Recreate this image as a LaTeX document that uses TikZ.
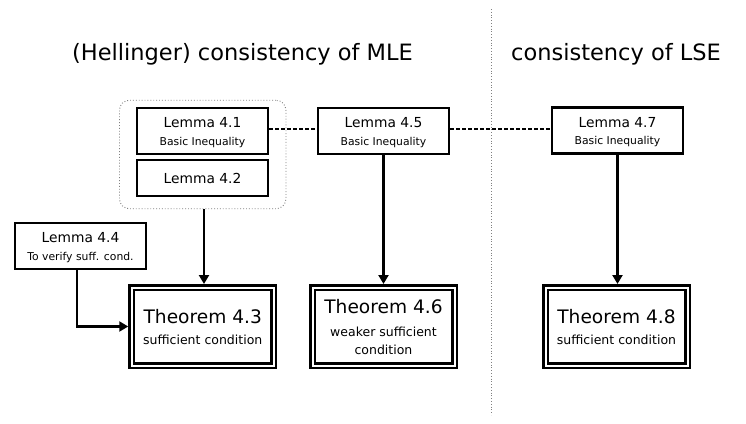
\documentclass[tikz,border=0pt]{standalone}
\usepackage{fontspec}
\setmainfont{DejaVu Sans}
\usetikzlibrary{arrows.meta,calc}
\begin{document}
\begin{tikzpicture}[x=1pt,y=-1pt,
  lembox/.style={draw,line width=2.2pt,minimum width=131pt,minimum height=46pt,inner sep=0pt},
  thmbox/.style={draw,double,line width=2.5pt,double distance=2pt,minimum width=142pt,minimum height=78pt,inner sep=0pt,outer sep=3.5pt},
  lemtxt/.style={anchor=base,inner sep=0pt,font=\fontsize{13.8}{16}\selectfont},
  subtxt/.style={anchor=base,inner sep=0pt,font=\fontsize{10.8}{13}\selectfont},
  thmtxt/.style={anchor=base,inner sep=0pt,font=\fontsize{18.6}{22}\selectfont},
  thmsub/.style={anchor=base,inner sep=0pt,font=\fontsize{12.5}{15}\selectfont},
  ttl/.style={anchor=base,inner sep=0pt,font=\fontsize{22.5}{27}\selectfont},
  arr/.style={line width=2.2pt,-{Triangle[length=9pt,width=10pt]}},
  dsh/.style={line width=2pt,dash pattern=on 3.5pt off 2.5pt}
]
\useasboundingbox[fill=white] (0,0) rectangle (746,423);
\draw[gray,line width=0.8pt,dotted] (491,9) -- (491,415);
% titles
\node[ttl] (t1) at (242.5,60.5) {(Hellinger) consistency of MLE};
\node[ttl] (t2) at (616,60.5) {consistency of LSE};
% group
\node[draw=gray,dotted,line width=0.9pt,rounded corners=10pt,minimum width=166.5pt,minimum height=108.5pt,inner sep=0pt] (grp) at (202.7,154.5) {};
% lemma boxes
\node[lembox] (l41) at (202.5,131) {};
\node[lemtxt] (l41a) at (202.5,127.5) {Lemma 4.1};
\node[subtxt] (l41b) at (202.5,145) {Basic Inequality};
\node[lembox,minimum height=36pt] (l42) at (202.5,178) {};
\node[lemtxt] (l42a) at (202.5,183.5) {Lemma 4.2};
\node[lembox] (l45) at (383.5,131) {};
\node[lemtxt] (l45a) at (383.5,127.5) {Lemma 4.5};
\node[subtxt] (l45b) at (383.5,145) {Basic Inequality};
\node[lembox] (l47) at (617.5,130.5) {};
\node[lemtxt] (l47a) at (617.5,127) {Lemma 4.7};
\node[subtxt] (l47b) at (617.5,144.5) {Basic Inequality};
\node[lembox] (l44) at (80.5,246) {};
\node[lemtxt] (l44a) at (80.5,242.5) {Lemma 4.4};
\node[subtxt] (l44b) at (80.5,260) {To verify suff. cond.};
% theorem boxes
\node[thmbox] (t43) at (202.75,326.5) {};
\node[thmtxt] (t43a) at (202.75,323) {Theorem 4.3};
\node[thmsub] (t43b) at (202.75,344) {sufficient condition};
\node[thmbox] (t46) at (383.5,326.5) {};
\node[thmtxt] (t46a) at (383.5,313) {Theorem 4.6};
\node[thmsub] (t46b) at (383.5,336) {weaker sufficient};
\node[thmsub] (t46c) at (383.5,354) {condition};
\node[thmbox] (t48) at (616.5,326.5) {};
\node[thmtxt] (t48a) at (616.5,323) {Theorem 4.8};
\node[thmsub] (t48b) at (616.5,344) {sufficient condition};
% connectors
\draw[dsh] ([yshift=2.5pt]l41.east) -- ([yshift=2.5pt]l41.east -| l45.west);
\draw[dsh] ([yshift=2.5pt]l45.east) -- ([yshift=2.5pt]l45.east -| l47.west);
\draw[arr] ([xshift=1.3pt]grp.south) -- ([xshift=1.3pt]grp.south |- t43.north);
\draw[arr] (l45.south) -- (l45.south |- t46.north);
\draw[arr] (l47.south) -- (l47.south |- t48.north);
\draw[arr] ([xshift=-3.5pt]l44.south) |- (t43.west);
\end{tikzpicture}
\end{document}
